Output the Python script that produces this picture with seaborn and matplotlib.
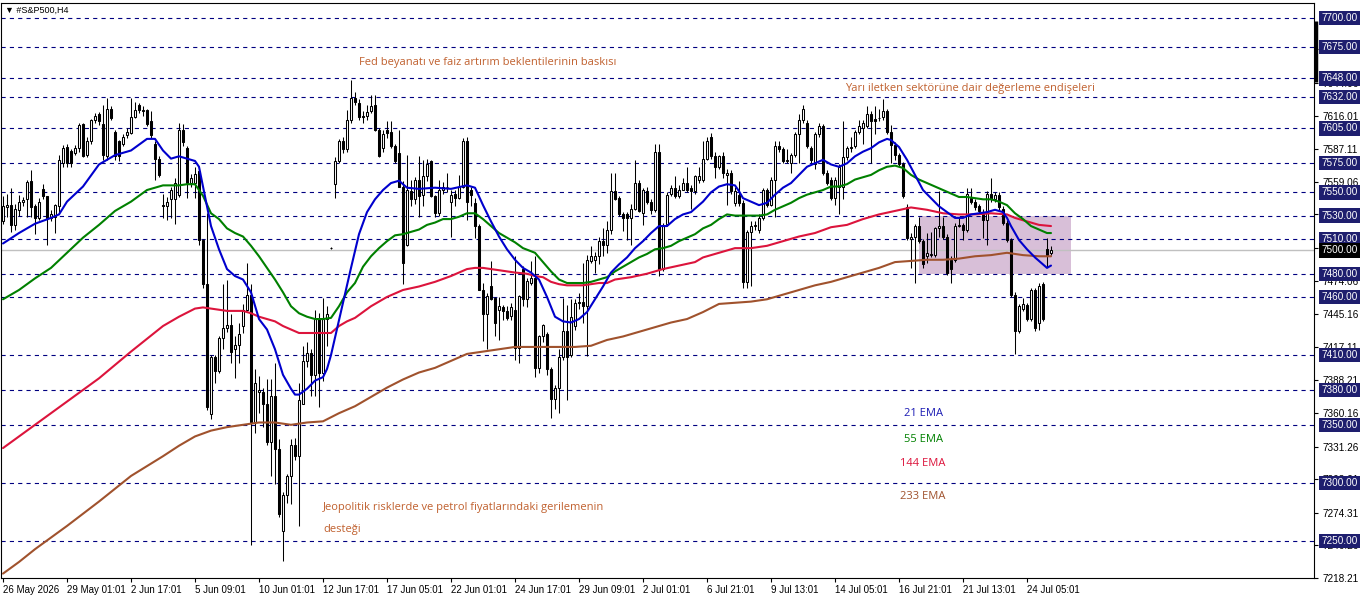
import numpy as np
import pandas as pd
import matplotlib
matplotlib.use("Agg")
import matplotlib.pyplot as plt
import matplotlib.transforms as mtransforms
from matplotlib.patches import Rectangle
import seaborn as sns

# ================= DATA =================
opens = [7525, 7537, 7539, 7522, 7535, 7542, 7544, 7560, 7538, 7528,
         7553, 7547, 7528, 7529, 7538, 7575, 7589, 7586, 7584, 7588,
         7609, 7582, 7594, 7612, 7617, 7609, 7581, 7622, 7602, 7594,
         7592, 7599, 7601, 7615, 7625, 7620, 7621, 7611, 7592, 7579,
         7539, 7538, 7544, 7544, 7548, 7604, 7588, 7558, 7558, 7568,
         7509, 7471, 7359, 7408, 7396, 7425, 7433, 7436, 7415, 7419,
         7435, 7449, 7462, 7352, 7378, 7378, 7368, 7335, 7375, 7329,
         7259, 7290, 7306, 7333, 7323, 7368, 7405, 7412, 7393, 7441,
         7395, 7441, 7502, 7557, 7577, 7594, 7587, 7612, 7631, 7627,
         7616, 7616, 7620, 7625, 7604, 7588, 7604, 7602, 7590, 7584,
         7555, 7505, 7551, 7544, 7561, 7548, 7564, 7577, 7547, 7532,
         7552, 7555, 7542, 7549, 7545, 7555, 7594, 7552, 7541, 7521,
         7466, 7445, 7469, 7459, 7449, 7451, 7448, 7444, 7449, 7416,
         7484, 7458, 7472, 7476, 7399, 7426, 7428, 7398, 7372, 7382,
         7408, 7431, 7410, 7435, 7455, 7456, 7452, 7491, 7492, 7495,
         7508, 7505, 7518, 7551, 7545, 7531, 7531, 7528, 7536, 7558,
         7532, 7551, 7542, 7535, 7585, 7484, 7523, 7549, 7554, 7547,
         7552, 7558, 7554, 7551, 7561, 7561, 7579, 7598, 7581, 7572,
         7581, 7565, 7567, 7541, 7548, 7541, 7473, 7516, 7521, 7518,
         7528, 7552, 7539, 7561, 7590, 7587, 7577, 7575, 7582, 7600,
         7612, 7610, 7588, 7574, 7600, 7607, 7567, 7561, 7545, 7555,
         7555, 7580, 7589, 7590, 7602, 7605, 7607, 7617, 7613, 7614,
         7615, 7620, 7602, 7591, 7582, 7574, 7537, 7510, 7512, 7521,
         7508, 7495, 7496, 7496, 7519, 7521, 7512, 7492, 7492, 7521,
         7522, 7518, 7545, 7542, 7538, 7533, 7526, 7549, 7544, 7548,
         7536, 7524, 7509, 7462, 7431, 7450, 7453, 7441, 7466, 7438,
         7471, 7501, 7498]
highs = [7547, 7549, 7554, 7540, 7548, 7546, 7561, 7569, 7540, 7545,
         7557, 7547, 7535, 7540, 7582, 7591, 7592, 7587, 7591, 7610,
         7610, 7598, 7613, 7618, 7619, 7625, 7631, 7624, 7604, 7595,
         7600, 7605, 7631, 7628, 7627, 7624, 7622, 7620, 7594, 7581,
         7549, 7546, 7555, 7562, 7610, 7609, 7590, 7566, 7572, 7570,
         7510, 7532, 7410, 7410, 7426, 7471, 7475, 7445, 7426, 7438,
         7454, 7489, 7471, 7398, 7392, 7382, 7389, 7389, 7403, 7338,
         7292, 7308, 7338, 7339, 7386, 7418, 7421, 7415, 7449, 7446,
         7459, 7452, 7503, 7580, 7596, 7598, 7621, 7647, 7636, 7630,
         7620, 7625, 7634, 7634, 7605, 7604, 7611, 7611, 7592, 7604,
         7560, 7582, 7561, 7563, 7581, 7578, 7579, 7578, 7548, 7561,
         7559, 7567, 7552, 7552, 7565, 7597, 7598, 7555, 7545, 7523,
         7472, 7463, 7491, 7460, 7460, 7453, 7452, 7455, 7495, 7462,
         7487, 7476, 7491, 7495, 7427, 7437, 7430, 7400, 7384, 7415,
         7459, 7453, 7458, 7458, 7463, 7489, 7496, 7504, 7499, 7512,
         7519, 7525, 7567, 7567, 7547, 7533, 7533, 7540, 7578, 7561,
         7554, 7555, 7544, 7592, 7592, 7524, 7550, 7556, 7564, 7556,
         7562, 7572, 7556, 7565, 7572, 7594, 7598, 7601, 7585, 7582,
         7585, 7570, 7569, 7555, 7560, 7543, 7518, 7525, 7525, 7531,
         7554, 7554, 7563, 7594, 7594, 7589, 7587, 7584, 7602, 7617,
         7625, 7612, 7590, 7602, 7610, 7609, 7569, 7563, 7563, 7574,
         7611, 7590, 7598, 7604, 7612, 7612, 7624, 7620, 7624, 7622,
         7630, 7622, 7608, 7593, 7584, 7576, 7540, 7515, 7523, 7529,
         7510, 7515, 7516, 7520, 7551, 7529, 7514, 7495, 7524, 7529,
         7524, 7554, 7554, 7544, 7540, 7536, 7551, 7562, 7550, 7550,
         7538, 7526, 7511, 7464, 7454, 7459, 7455, 7468, 7468, 7472,
         7473, 7511, 7504]
lows = [7523, 7529, 7516, 7518, 7530, 7538, 7529, 7529, 7514, 7526,
        7544, 7505, 7525, 7515, 7532, 7572, 7572, 7572, 7582, 7585,
        7580, 7580, 7592, 7610, 7608, 7578, 7578, 7612, 7578, 7577,
        7590, 7597, 7600, 7614, 7618, 7616, 7607, 7597, 7561, 7563,
        7528, 7526, 7528, 7523, 7546, 7590, 7545, 7555, 7545, 7505,
        7468, 7363, 7355, 7386, 7395, 7415, 7430, 7403, 7390, 7403,
        7429, 7448, 7247, 7343, 7360, 7348, 7333, 7306, 7299, 7271,
        7233, 7283, 7282, 7320, 7263, 7368, 7400, 7375, 7375, 7365,
        7388, 7418, 7501, 7545, 7575, 7584, 7585, 7610, 7625, 7612,
        7610, 7612, 7618, 7603, 7580, 7585, 7597, 7588, 7575, 7555,
        7471, 7504, 7538, 7540, 7529, 7538, 7560, 7546, 7529, 7530,
        7549, 7550, 7512, 7538, 7544, 7554, 7526, 7538, 7511, 7466,
        7422, 7415, 7457, 7426, 7423, 7440, 7440, 7440, 7406, 7403,
        7452, 7451, 7470, 7391, 7395, 7421, 7393, 7356, 7364, 7360,
        7406, 7371, 7408, 7432, 7450, 7438, 7409, 7489, 7481, 7488,
        7495, 7498, 7514, 7543, 7530, 7517, 7509, 7505, 7535, 7533,
        7522, 7540, 7531, 7533, 7478, 7482, 7521, 7547, 7545, 7545,
        7552, 7550, 7536, 7549, 7558, 7559, 7578, 7579, 7562, 7570,
        7562, 7539, 7549, 7538, 7538, 7468, 7468, 7469, 7518, 7515,
        7526, 7537, 7538, 7529, 7585, 7575, 7575, 7567, 7580, 7575,
        7610, 7588, 7575, 7570, 7598, 7565, 7556, 7543, 7539, 7531,
        7544, 7578, 7585, 7588, 7600, 7592, 7605, 7575, 7600, 7611,
        7612, 7600, 7575, 7578, 7572, 7545, 7509, 7485, 7472, 7506,
        7485, 7489, 7494, 7494, 7512, 7510, 7479, 7472, 7490, 7520,
        7509, 7516, 7540, 7535, 7532, 7511, 7505, 7542, 7542, 7535,
        7522, 7507, 7460, 7411, 7429, 7448, 7439, 7439, 7431, 7432,
        7439, 7486, 7496]
closes = [7538, 7539, 7522, 7536, 7542, 7543, 7559, 7537, 7528, 7542,
          7547, 7528, 7531, 7539, 7578, 7588, 7575, 7575, 7588, 7608,
          7581, 7594, 7612, 7616, 7611, 7582, 7622, 7614, 7581, 7581,
          7598, 7602, 7615, 7621, 7621, 7621, 7609, 7599, 7579, 7565,
          7538, 7542, 7552, 7558, 7604, 7593, 7558, 7562, 7566, 7509,
          7471, 7365, 7408, 7396, 7425, 7433, 7436, 7413, 7419, 7428,
          7449, 7462, 7352, 7386, 7380, 7368, 7335, 7375, 7329, 7273,
          7290, 7306, 7333, 7323, 7371, 7405, 7412, 7393, 7441, 7395,
          7441, 7445, 7502, 7577, 7594, 7587, 7612, 7631, 7628, 7615,
          7615, 7619, 7624, 7604, 7581, 7600, 7601, 7590, 7577, 7555,
          7489, 7552, 7544, 7561, 7547, 7564, 7574, 7547, 7532, 7552,
          7555, 7555, 7548, 7545, 7555, 7594, 7542, 7548, 7521, 7466,
          7445, 7461, 7458, 7438, 7452, 7448, 7442, 7451, 7416, 7461,
          7458, 7474, 7476, 7399, 7426, 7436, 7398, 7372, 7382, 7408,
          7431, 7408, 7443, 7455, 7456, 7452, 7492, 7495, 7495, 7508,
          7505, 7518, 7551, 7544, 7531, 7528, 7528, 7536, 7558, 7534,
          7552, 7542, 7535, 7585, 7484, 7522, 7548, 7554, 7547, 7552,
          7558, 7552, 7551, 7564, 7564, 7579, 7594, 7581, 7572, 7581,
          7567, 7567, 7551, 7551, 7541, 7473, 7516, 7521, 7522, 7528,
          7552, 7539, 7561, 7590, 7587, 7577, 7578, 7582, 7600, 7612,
          7622, 7590, 7578, 7600, 7607, 7567, 7558, 7545, 7561, 7572,
          7580, 7588, 7588, 7602, 7607, 7610, 7617, 7611, 7611, 7614,
          7620, 7602, 7591, 7582, 7574, 7547, 7511, 7512, 7521, 7508,
          7488, 7498, 7497, 7519, 7521, 7512, 7481, 7484, 7521, 7522,
          7518, 7549, 7542, 7537, 7534, 7526, 7549, 7544, 7548, 7537,
          7524, 7509, 7462, 7431, 7452, 7454, 7441, 7466, 7433, 7469,
          7441, 7496, 7500]

ema21_bars = [0, 4, 8, 12, 14, 16, 20, 24, 28, 32, 36, 38, 40, 42, 44, 46, 48, 49, 50, 52,
              54, 56, 58, 60, 62, 64, 66, 68, 70, 72, 73, 74, 76, 78, 80, 81, 82, 83, 84, 85,
              86, 87, 89, 91, 93, 95, 97, 99, 100, 101, 104, 108, 112, 116, 118, 120, 122, 124, 126, 128,
              130, 132, 134, 136, 138, 140, 142, 144, 146, 148, 150, 152, 154, 156, 158, 160, 162, 164, 166, 168,
              170, 172, 174, 175, 177, 179, 181, 183, 184, 185, 187, 189, 191, 193, 195, 197, 199, 201, 203, 205,
              207, 209, 211, 213, 215, 217, 219, 221, 222, 224, 226, 228, 230, 232, 234, 236, 238, 240, 242, 244,
              246, 248, 250, 251, 252, 254, 256, 258, 260, 261, 262]
ema21_vals = [7506, 7515, 7523, 7528, 7531, 7542, 7555, 7574, 7582, 7586, 7596, 7596, 7586, 7579, 7581, 7579, 7577, 7572, 7555, 7521,
              7501, 7484, 7478, 7475, 7464, 7441, 7432, 7415, 7393, 7381, 7376, 7376, 7381, 7388, 7391, 7398, 7410, 7425, 7440, 7455,
              7470, 7485, 7514, 7533, 7544, 7552, 7558, 7560, 7557, 7554, 7553, 7554, 7553, 7556, 7554, 7539, 7525, 7512, 7501, 7492,
              7485, 7481, 7475, 7460, 7443, 7439, 7438, 7441, 7447, 7458, 7469, 7481, 7488, 7494, 7502, 7508, 7515, 7521, 7521, 7527,
              7531, 7533, 7539, 7542, 7550, 7555, 7557, 7556, 7551, 7545, 7542, 7539, 7541, 7548, 7554, 7558, 7565, 7572, 7575, 7578,
              7574, 7572, 7575, 7581, 7585, 7588, 7593, 7596, 7595, 7589, 7578, 7565, 7552, 7545, 7538, 7533, 7528, 7528, 7531, 7532,
              7533, 7535, 7533, 7528, 7521, 7509, 7501, 7494, 7488, 7485, 7487]

ema55_bars = [0, 4, 8, 12, 16, 20, 24, 28, 32, 36, 40, 44, 46, 48, 50, 52, 54, 56, 58, 60,
              62, 64, 66, 68, 70, 72, 74, 76, 78, 80, 82, 84, 86, 88, 90, 92, 94, 96, 98, 100,
              102, 104, 106, 108, 110, 112, 114, 116, 118, 120, 122, 124, 126, 128, 130, 133, 135, 137, 139, 141,
              143, 145, 147, 149, 151, 153, 155, 157, 159, 161, 163, 165, 167, 169, 171, 173, 175, 177, 179, 181,
              183, 185, 187, 189, 191, 193, 195, 197, 199, 201, 203, 205, 207, 209, 211, 213, 215, 217, 219, 221,
              223, 225, 227, 229, 231, 233, 235, 237, 239, 241, 243, 245, 247, 249, 251, 253, 255, 257, 259, 261, 262]
ema55_vals = [7458, 7466, 7476, 7485, 7498, 7511, 7522, 7534, 7542, 7552, 7556, 7556, 7557, 7557, 7547, 7532, 7527, 7519, 7515, 7512,
              7504, 7495, 7485, 7475, 7464, 7452, 7446, 7443, 7441, 7441, 7442, 7452, 7464, 7472, 7486, 7495, 7502, 7508, 7513, 7514,
              7516, 7518, 7522, 7524, 7527, 7527, 7529, 7532, 7532, 7527, 7521, 7515, 7511, 7507, 7502, 7498, 7490, 7482, 7475, 7472,
              7472, 7472, 7473, 7475, 7477, 7482, 7486, 7490, 7494, 7497, 7501, 7502, 7504, 7508, 7511, 7514, 7519, 7522, 7527, 7531,
              7530, 7530, 7530, 7530, 7531, 7535, 7538, 7541, 7545, 7548, 7550, 7552, 7555, 7555, 7557, 7561, 7563, 7565, 7569, 7572,
              7573, 7571, 7565, 7561, 7558, 7555, 7552, 7549, 7546, 7546, 7545, 7544, 7544, 7542, 7539, 7532, 7527, 7521, 7518, 7515, 7515]

ema144_bars = [0, 8, 16, 24, 32, 40, 44, 48, 50, 52, 54, 56, 58, 60, 62, 64, 66, 68, 70, 72,
               74, 76, 78, 80, 82, 84, 86, 88, 92, 96, 100, 104, 108, 112, 116, 118, 120, 124, 128, 131,
               133, 135, 137, 139, 141, 143, 145, 147, 149, 151, 153, 157, 161, 165, 169, 173, 175, 179, 183, 187,
               191, 195, 199, 203, 207, 211, 215, 219, 223, 227, 231, 235, 239, 243, 247, 251, 253, 255, 257, 259, 262]
ema144_vals = [7330, 7350, 7370, 7390, 7413, 7435, 7443, 7450, 7451, 7450, 7449, 7448, 7448, 7448, 7446, 7443, 7441, 7439, 7435, 7432,
               7429, 7429, 7429, 7429, 7429, 7435, 7439, 7442, 7452, 7460, 7466, 7469, 7473, 7478, 7484, 7485, 7485, 7483, 7481, 7480,
               7478, 7477, 7473, 7471, 7470, 7470, 7470, 7471, 7472, 7472, 7475, 7477, 7480, 7484, 7487, 7490, 7494, 7498, 7502, 7502,
               7504, 7508, 7512, 7515, 7520, 7522, 7527, 7531, 7534, 7537, 7535, 7532, 7531, 7531, 7532, 7531, 7528, 7526, 7524, 7522, 7521]

ema233_bars = [0, 4, 8, 16, 24, 32, 40, 44, 48, 52, 56, 60, 64, 68, 72, 76, 80, 84, 88, 92,
               96, 100, 104, 108, 112, 116, 120, 124, 128, 131, 135, 139, 143, 147, 151, 155, 159, 163, 167, 171,
               175, 179, 183, 187, 191, 195, 199, 203, 207, 211, 215, 219, 223, 227, 231, 235, 239, 243, 247, 251,
               253, 255, 259, 262]
ema233_vals = [7222, 7232, 7243, 7263, 7284, 7306, 7323, 7332, 7340, 7345, 7348, 7350, 7352, 7352, 7350, 7352, 7353, 7360, 7366, 7374,
               7382, 7389, 7395, 7399, 7405, 7411, 7413, 7415, 7417, 7417, 7417, 7417, 7417, 7418, 7423, 7426, 7430, 7434, 7438, 7441,
               7447, 7454, 7455, 7456, 7458, 7462, 7466, 7470, 7473, 7477, 7481, 7485, 7490, 7491, 7492, 7492, 7493, 7495, 7496, 7498,
               7497, 7496, 7495, 7495]

level_lines = [7700, 7675, 7648, 7632, 7605, 7575, 7550, 7530, 7510, 7480, 7460, 7410, 7380, 7350, 7300, 7250]
axis_ticks = [7218.21, 7246.26, 7274.31, 7303.21, 7331.26, 7360.16, 7388.21, 7417.11, 7445.16, 7474.06,
              7502.11, 7531.01, 7559.06, 7587.11, 7616.01, 7644.06, 7672.96]
date_ticks = [0, 16, 32, 48, 64, 80, 96, 112, 128, 144, 160, 176, 192, 208, 224, 240, 256]
date_labels = ["26 May 2026", "29 May 01:01", "2 Jun 17:01", "5 Jun 09:01", "10 Jun 01:01",
               "12 Jun 17:01", "17 Jun 05:01", "22 Jun 01:01", "24 Jun 17:01", "29 Jun 09:01",
               "2 Jul 01:01", "6 Jul 21:01", "9 Jul 13:01", "14 Jul 05:01", "16 Jul 21:01",
               "21 Jul 13:01", "24 Jul 05:01"]

# ================= STYLE =================
sns.set_theme(style="white")
plt.rcParams["font.family"] = ["Liberation Sans", "DejaVu Sans"]
plt.rcParams["lines.scale_dashes"] = False

NAVY = "#1E1E6E"
TXT = "#C0602E"
NOTE_FONT = ["Open Sans", "DejaVu Sans"]

fig = plt.figure(figsize=(13.62, 6.03), dpi=100)
ax = fig.add_axes([1 / 1362, 25 / 603, 1313 / 1362, 575 / 603])

x = np.arange(len(closes))
o = np.array(opens, float)
c = np.array(closes, float)
h = np.maximum.reduce([np.array(highs, float), o, c])
l = np.minimum.reduce([np.array(lows, float), o, c])

# level lines
for lv in level_lines:
    ax.axhline(lv, color="#000080", lw=0.8, ls=(0, (3, 3)), zorder=1)
ax.axhline(7500, color="#C0C0C0", lw=1.0, zorder=1)

# zone rectangle
ax.add_patch(Rectangle((229, 7480), 38, 50, facecolor="#D8BFD8", edgecolor="none", zorder=0.5))

# ================= CANDLES =================
ax.vlines(x, l, h, color="black", lw=0.75, zorder=2)
up = c >= o
ax.bar(x[up], c[up] - o[up], bottom=o[up], width=0.55, color="white",
       edgecolor="black", linewidth=0.75, zorder=3)
ax.bar(x[~up], o[~up] - c[~up], bottom=c[~up], width=0.55, color="black",
       edgecolor="black", linewidth=0.75, zorder=3)

# ================= EMA LINES =================
for bars, vals, col in [(ema233_bars, ema233_vals, "#A0522D"),
                        (ema144_bars, ema144_vals, "#DC143C"),
                        (ema55_bars, ema55_vals, "#008000"),
                        (ema21_bars, ema21_vals, "#0000CD")]:
    df = pd.DataFrame({"bar": bars, "ema": vals})
    sns.lineplot(data=df, x="bar", y="ema", color=col, lw=1.5, ax=ax, zorder=4)

# ================= TEXT =================
ax.text(89, 7662, "Fed beyanatı ve faiz artırım beklentilerinin baskısı", color=TXT,
        fontsize=8, family=NOTE_FONT, va="center")
ax.text(210.5, 7639, "Yarı iletken sektörüne dair değerleme endişeleri", color=TXT,
        fontsize=8, family=NOTE_FONT, va="center")
ax.text(80, 7279, "Jeopolitik risklerde ve petrol fiyatlarındaki gerilemenin", color=TXT,
        fontsize=8, family=NOTE_FONT, va="center")
ax.text(80, 7260, "desteği", color=TXT, fontsize=8, family=NOTE_FONT, va="center")
for lbl, yv, col in [("21 EMA", 7360, "#1C1CB4"), ("55 EMA", 7337, "#008000"),
                     ("144 EMA", 7317, "#DC143C"), ("233 EMA", 7288, "#A0522D")]:
    ax.text(230, yv, lbl, color=col, fontsize=8, family=NOTE_FONT, ha="center", va="center")

fig.text(5 / 1362, 1 - 10 / 603, "▼ #S&P500,H4", fontsize=6.5, va="center", color="black")

# ================= AXES =================
ax.set_xlim(-0.5, 327.75)
ax.set_ylim(7219.1, 7712.9)
ax.set_xlabel("")
ax.set_ylabel("")
ax.yaxis.tick_right()
ax.set_yticks(axis_ticks)
ax.set_yticklabels([f"{t:.2f}" for t in axis_ticks])
ax.set_xticks(date_ticks)
ax.set_xticklabels(date_labels, ha="left")
ax.tick_params(axis="y", which="both", direction="out", length=3, width=0.8, pad=3,
               labelsize=7.2, colors="black", right=True, left=False)
ax.tick_params(axis="x", which="both", direction="out", length=3, width=0.8, pad=2,
               labelsize=7, colors="black", bottom=True)
for sp in ax.spines.values():
    sp.set_color("black")
    sp.set_linewidth(0.8)
ax.grid(False)

trans = mtransforms.blended_transform_factory(ax.transAxes, ax.transData)
for lv in level_lines + [7500]:
    ax.text(1.0055, lv, f"{lv:.2f}", transform=trans, ha="left", va="center", fontsize=7.2,
            color="white", zorder=10, clip_on=False,
            bbox=dict(boxstyle="square,pad=0.22", fc="black" if lv == 7500 else NAVY, ec="none"))
ax.plot([1.0015, 1.0015], [7645, 7697], transform=trans, color="black", lw=2.5,
        clip_on=False, zorder=10, solid_capstyle="butt")

plt.savefig("out.png", dpi=100)
